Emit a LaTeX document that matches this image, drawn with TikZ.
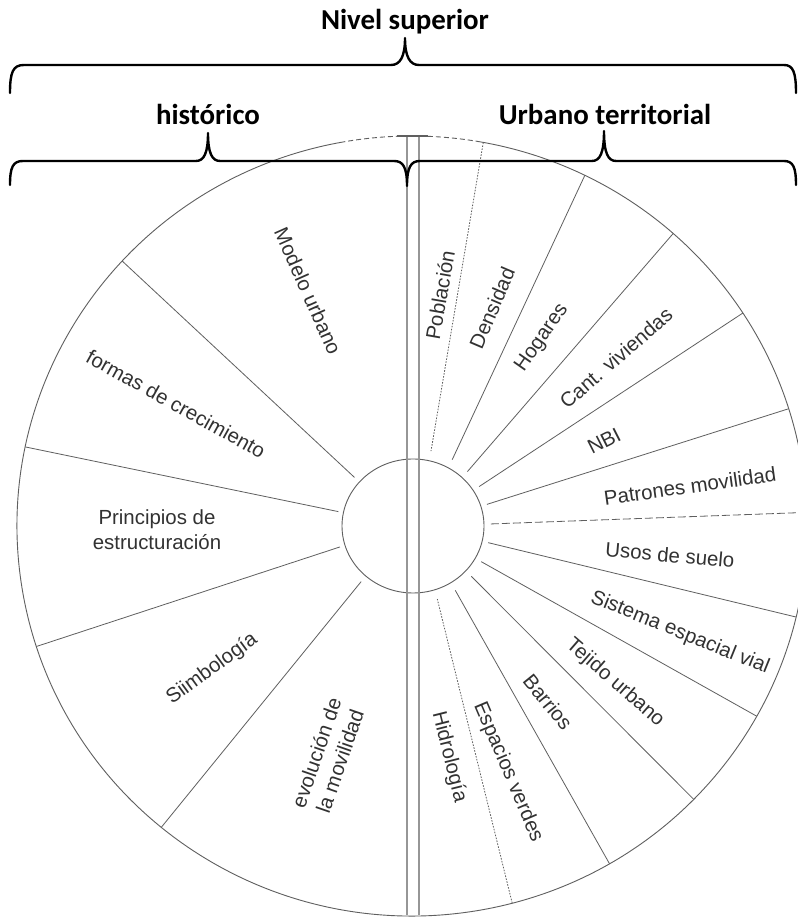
\documentclass[tikz,border=0pt]{standalone}
\usepackage{fontspec}
\setmainfont{Liberation Sans}
\newfontfamily\headfont{Carlito}
\definecolor{linegray}{RGB}{95,95,95}
\definecolor{dblgray}{RGB}{150,150,150}
\definecolor{txtgray}{RGB}{50,50,50}
\begin{document}
\begin{tikzpicture}[x=1bp,y=1bp,
  ring/.style={draw=linegray, line width=0.9bp},
  spoke/.style={draw=linegray, line width=0.8bp},
  dotspoke/.style={spoke, dash pattern=on 1.6bp off 1.4bp},
  dashspoke/.style={spoke, dash pattern=on 8bp off 3bp},
  dbl/.style={draw=dblgray, line width=1.4bp},
  brace/.style={draw=black, line width=2.4bp, line join=round, line cap=round},
  head/.style={font=\headfont\bfseries\fontsize{29}{34}\selectfont, text=black, inner sep=0pt},
  lab/.style={font=\fontsize{20.5}{25}\selectfont, text=txtgray, inner sep=0pt, align=center},
]
\useasboundingbox (0,0) rectangle (798,917);
\clip (0,0) rectangle (798,917);
\fill[white] (0,0) rectangle (798,917);
\coordinate (O) at (412,391);
\coordinate (C) at (413,391);
% outer ring
\draw[ring] ([shift={(O)}]100:395 and 390) arc[start angle=100, end angle=440, x radius=395, y radius=390];
\draw[ring, dash pattern=on 5bp off 3bp] ([shift={(O)}]80:395 and 390) arc[start angle=80, end angle=100, x radius=395, y radius=390];
% inner ring
\draw[ring] (C) ellipse[x radius=71, y radius=67];
% spokes, left half
\foreach \t/\a in {137.2/140.3, 168.3/169.1, 198/196, 230.6/227}
  \draw[spoke] ([shift={(O)}]\t:395 and 390) -- ([shift={(C)}]\a:76);
% spokes, right half
\draw[dotspoke] ([shift={(O)}]79.6:395 and 390) -- ([shift={(C)}]76.5:77);
\foreach \t/\a in {64.05/59.4, 48.6/45, 33.1/30.8, 17.5/16.3, -13.5/-12.5, -29.2/-27.6, -44.5/-40.8, -60/-56.7}
  \draw[spoke] ([shift={(O)}]\t:395 and 390) -- ([shift={(C)}]\a:77);
\draw[dashspoke] ([shift={(O)}]2:395 and 390) -- ([shift={(C)}]1.5:77);
\draw[dotspoke] ([shift={(O)}]-75.3:395 and 390) -- ([shift={(C)}]-71.6:77);
% double vertical divider
\draw[dbl] (407,2) -- (407,780);
\draw[dbl] (419,2) -- (419,780);
\draw[draw=linegray, line width=1.3bp] (397,781) -- (428,781);
% braces
\draw[brace] (10,824) .. controls (10,845) and (13,852) .. (24,852) -- (391,852)
  .. controls (400,852) and (405,860) .. (405,879)
  .. controls (405,860) and (410,852) .. (419,852) -- (784,852)
  .. controls (793,852) and (796,845) .. (796,824);
\draw[brace] (10,732) .. controls (10,750) and (13,756) .. (23,756) -- (196,756)
  .. controls (204,756) and (208,764) .. (208,784)
  .. controls (208,764) and (212,756) .. (220,756) -- (394,756)
  .. controls (403,756) and (407,750) .. (407,731)
  .. controls (407,750) and (411,756) .. (420,756) -- (592,756)
  .. controls (600,756) and (604,764) .. (604,786)
  .. controls (604,764) and (608,756) .. (616,756) -- (784,756)
  .. controls (793,756) and (796,750) .. (796,732);
% headings
\node[head] (nivel) at (405,895) {Nivel superior};
\node[head] (hist) at (208,803) {histórico};
\node[head] (urb) at (605,803) {Urbano territorial};
% sector labels, left
\node[lab, rotate=-66] (modelo) at (308,626) {Modelo urbano};
\node[lab, rotate=-29] (formas) at (176,513) {formas de crecimiento};
\node[lab] (princ) at (157,387) {Principios de\\estructuración};
\node[lab, rotate=36] (simb) at (212,248) {Siimbología};
\node[lab, rotate=71] (evol) at (328,160) {evolución de\\la movilidad};
% sector labels, right
\node[lab, rotate=80] (pobl) at (440,622) {Población};
\node[lab, rotate=67] (dens) at (492,609) {Densidad};
\node[lab, rotate=55] (hog) at (542,579) {Hogares};
\node[lab, rotate=41] (cant) at (616,559) {Cant. viviendas};
\node[lab, rotate=27] (nbi) at (604,476) {NBI};
\node[lab, rotate=8] (patr) at (690,431) {Patrones movilidad};
\node[lab, rotate=-5] (usos) at (670,362) {Usos de suelo};
\node[lab, rotate=-22] (sist) at (680,284) {Sistema espacial vial};
\node[lab, rotate=-41] (tej) at (615,234) {Tejido urbano};
\node[lab, rotate=-51] (barr) at (548,215) {Barrios};
\node[lab, rotate=-67] (esp) at (508,145) {Espacios verdes};
\node[lab, rotate=-76] (hidro) at (449,160) {Hidrología};
\end{tikzpicture}
\end{document}
